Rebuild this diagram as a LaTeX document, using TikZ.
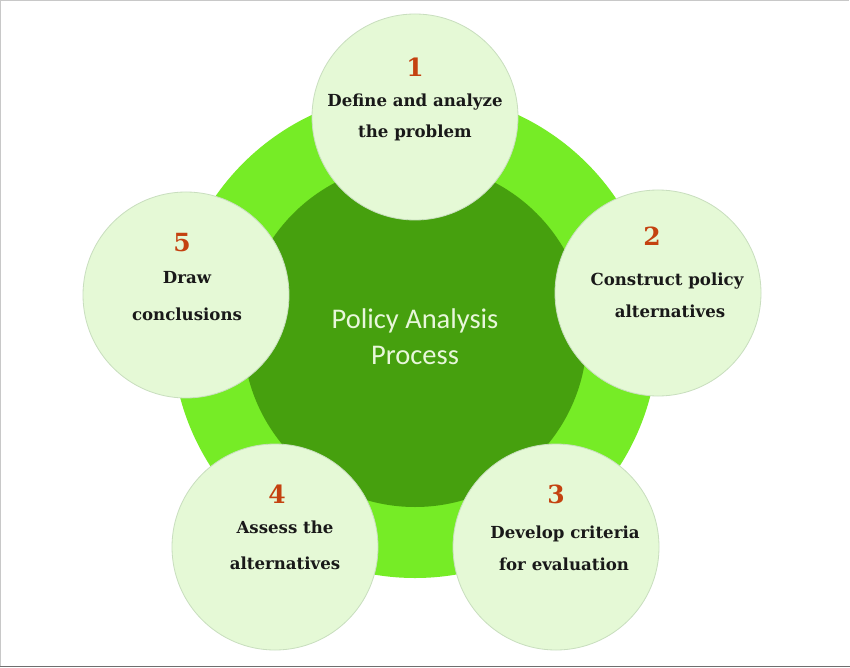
\documentclass[tikz,border=0pt]{standalone}
\usepackage{fontspec}
\setmainfont{DejaVu Serif}
\newfontfamily\centerfont{Carlito}
\definecolor{ringgreen}{RGB}{118,236,38}
\definecolor{darkgreen}{RGB}{70,160,14}
\definecolor{palegreen}{RGB}{229,249,214}
\definecolor{paleedge}{RGB}{200,222,190}
\definecolor{numred}{RGB}{196,66,16}
\definecolor{centertext}{RGB}{232,247,218}
\definecolor{frametop}{RGB}{200,200,200}
\definecolor{framebot}{RGB}{110,110,110}
\tikzset{
  stepcircle/.style={circle, fill=palegreen, draw=paleedge, line width=0.8pt, minimum size=206pt, inner sep=0pt},
  stepnum/.style={anchor=base, text=numred, font=\fontsize{25}{25}\selectfont\bfseries, inner sep=0pt},
  steptext/.style={anchor=base, text=black!90, font=\fontsize{16.6}{16.6}\selectfont\bfseries, inner sep=0pt},
  centerlabel/.style={anchor=base, text=centertext, font=\centerfont\fontsize{28.5}{28.5}\selectfont, inner sep=0pt}
}
\begin{document}
\begin{tikzpicture}[x=1pt,y=-1pt]
\useasboundingbox (0,0) rectangle (850,668);
\fill[white] (0,0) rectangle (850,668);
% frame
\draw[frametop, line width=1.2pt] (0.6,667) -- (0.6,0.6) -- (849.4,0.6);
\draw[framebot, line width=1.5pt] (0,666.5) -- (850,666.5);
% rings
\node[circle, fill=ringgreen, minimum size=486pt, inner sep=0pt] (ring) at (415,335) {};
\node[circle, fill=darkgreen, minimum size=344pt, inner sep=0pt] (core) at (415,335) {};
\node[centerlabel] (ct1) at (415,328) {Policy Analysis};
\node[centerlabel] (ct2) at (415,364) {Process};
% step circles
\node[stepcircle] (c1) at (415,117) {};
\node[stepcircle] (c2) at (658,293) {};
\node[stepcircle] (c3) at (556,547) {};
\node[stepcircle] (c4) at (275,547) {};
\node[stepcircle] (c5) at (186,295) {};
% step 1
\node[stepnum] (n1) at (415,77) {1};
\node[steptext] (t1a) at (415,107) {Define and analyze};
\node[steptext] (t1b) at (415,138) {the problem};
% step 2
\node[stepnum] (n2) at (652,245) {2};
\node[steptext] (t2a) at (667,285) {Construct policy};
\node[steptext] (t2b) at (670,317) {alternatives};
% step 3
\node[stepnum] (n3) at (556,503) {3};
\node[steptext] (t3a) at (565,538) {Develop criteria};
\node[steptext] (t3b) at (564,570) {for evaluation};
% step 4
\node[stepnum] (n4) at (277,503) {4};
\node[steptext] (t4a) at (285,533) {Assess the};
\node[steptext] (t4b) at (285,569) {alternatives};
% step 5
\node[stepnum] (n5) at (182,251) {5};
\node[steptext] (t5a) at (187,283) {Draw};
\node[steptext] (t5b) at (187,320) {conclusions};
\end{tikzpicture}
\end{document}
